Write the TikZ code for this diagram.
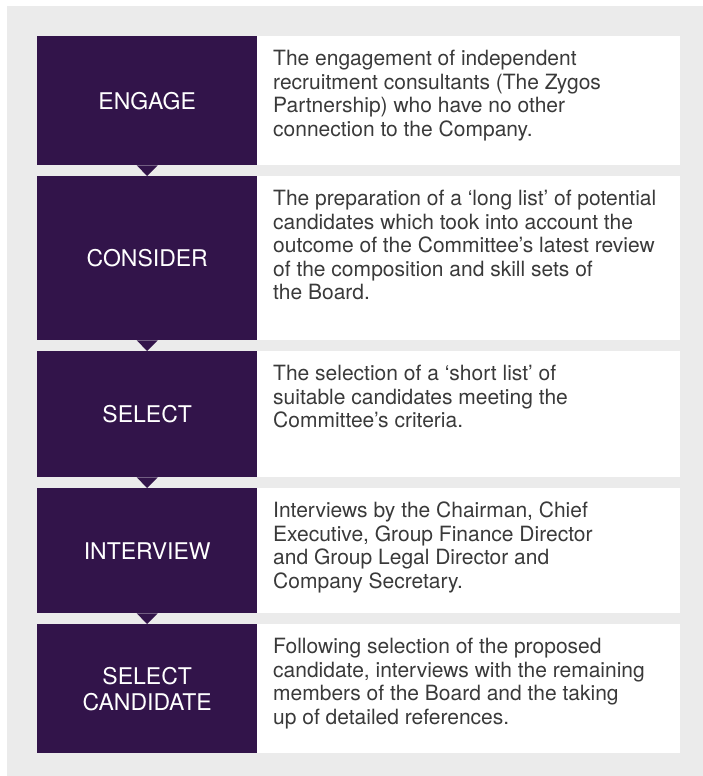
\documentclass[tikz,border=0pt]{standalone}
\usepackage{fontspec}
\setmainfont{TeX Gyre Heros}
\definecolor{plum}{HTML}{32144A}
\definecolor{panelgray}{HTML}{EBEBEB}
\definecolor{bodytext}{HTML}{3A3A3A}
% fixed height for the first line of each description, so all blocks share a baseline offset
\newcommand{\firstline}{\rule{0pt}{17pt}}
\begin{document}
\begin{tikzpicture}[x=1pt,y=-1pt,
  stagebox/.style={fill=plum, draw=none, inner sep=0pt, anchor=north west,
    minimum width=220pt, text=white, align=center,
    font=\fontsize{23}{26}\selectfont},
  descbox/.style={fill=white, draw=none, inner sep=0pt, anchor=north west,
    minimum width=423pt},
  desctext/.style={inner sep=0pt, anchor=north west, align=left, text=bodytext,
    font=\fontsize{21}{23.5}\selectfont},
  pointer/.style={fill=plum, draw=none}]
\useasboundingbox (0,0) rectangle (703,776);
\fill[panelgray] (7,6) rectangle (703,776);

% stage boxes (left) and their descriptions (right)
\node[stagebox, minimum height=129pt] (s1) at (37,36) {ENGAGE};
\node[descbox,  minimum height=129pt] (d1) at (257,36) {};
\node[stagebox, minimum height=164pt] (s2) at (37,176) {CONSIDER};
\node[descbox,  minimum height=164pt] (d2) at (257,176) {};
\node[stagebox, minimum height=126pt] (s3) at (37,351) {SELECT};
\node[descbox,  minimum height=126pt] (d3) at (257,351) {};
\node[stagebox, minimum height=125pt] (s4) at (37,488) {INTERVIEW};
\node[descbox,  minimum height=125pt] (d4) at (257,488) {};
\node[stagebox, minimum height=129pt] (s5) at (37,624) {SELECT\\CANDIDATE};
\node[descbox,  minimum height=129pt] (d5) at (257,624) {};

\node[desctext] (t1) at ([shift={(16,12.5)}]d1.north west)
  {\firstline The engagement of independent\\
   recruitment consultants (The Zygos\\
   Partnership) who have no other\\
   connection to the Company.};
\node[desctext] (t2) at ([shift={(16,12.5)}]d2.north west)
  {\firstline The preparation of a ‘long list’ of potential\\
   candidates which took into account the\\
   outcome of the Committee’s latest review\\
   of the composition and skill sets of\\
   the Board.};
\node[desctext] (t3) at ([shift={(16,12.5)}]d3.north west)
  {\firstline The selection of a ‘short list’ of\\
   suitable candidates meeting the\\
   Committee’s criteria.};
\node[desctext] (t4) at ([shift={(16,12.5)}]d4.north west)
  {\firstline Interviews by the Chairman, Chief\\
   Executive, Group Finance Director\\
   and Group Legal Director and\\
   Company Secretary.};
\node[desctext] (t5) at ([shift={(16,12.5)}]d5.north west)
  {\firstline Following selection of the proposed\\
   candidate, interviews with the remaining\\
   members of the Board and the taking\\
   up of detailed references.};

% downward pointers joining consecutive stages
\foreach \a/\b in {s1/s2, s2/s3, s3/s4, s4/s5}
  \fill[pointer] ([xshift=-10.5pt]\a.south) -- ([xshift=10.5pt]\a.south) -- (\b.north) -- cycle;
\end{tikzpicture}
\end{document}
